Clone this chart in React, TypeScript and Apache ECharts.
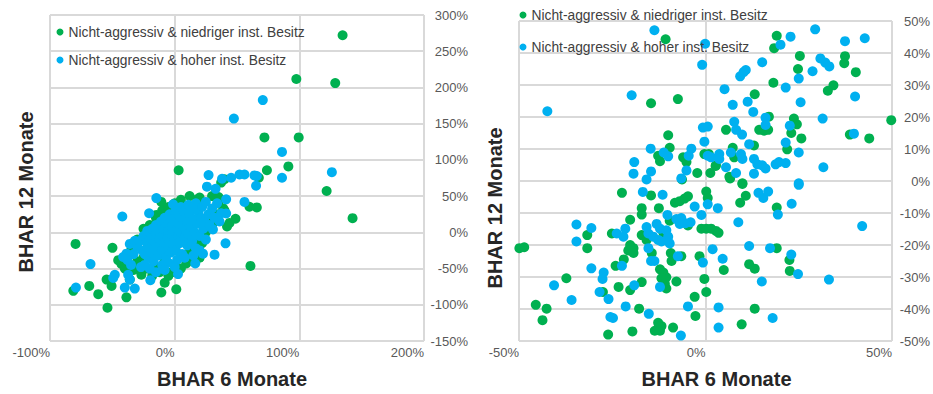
import React, { useEffect, useRef } from "react";
import * as echarts from "echarts";

const SERIES_NAMES = [
  "Nicht-aggressiv & niedriger inst. Besitz",
  "Nicht-aggressiv & hoher inst. Besitz",
];
const X_TITLE = "BHAR 6 Monate";
const Y_TITLE = "BHAR 12 Monate";

const LEFT_X_TICKS = [-100, 0, 100, 200];
const LEFT_Y_TICKS = [-150, -100, -50, 0, 50, 100, 150, 200, 250, 300];
const RIGHT_X_TICKS = [-50, 0, 50];
const RIGHT_Y_TICKS = [-50, -40, -30, -20, -10, 0, 10, 20, 30, 40, 50];

const COLORS = ["#00B050", "#00B0F0"];

// Left chart: BHAR 6 months (x, %) vs BHAR 12 months (y, %)
const leftGreen: number[][] = [
  [134.7, 272], [97.6, 211.6], [128.8, 206], [72, 131], [99.5, 131], [91.2, 91],
  [74, 85.7], [3.2, 85.7], [121.9, 57], [142.7, 19.6], [60.8, -46.4], [65.9, 34.4],
  [60, 35.3], [48.8, 18.8], [44, 13], [67.5, 75.4], [37.3, 68.7], [40, 73.3],
  [-79.5, -16], [-49.9, -21.4], [-45.3, -38.4], [-42.7, -43.7], [-54.6, -65.2],
  [-50.6, -74], [-68.5, -74], [-81.3, -80.8], [-61.3, -85.3], [-53.9, -104],
  [-38.7, -89.7], [-36, -65.2], [-26.7, -58.5], [-10.7, -83], [-8, -69.6], [1.3, -78.6],
  [-4, -56], [9.3, -43], [-10.7, 42], [-8, 26.3], [-14.7, 24], [18.1, 45.5], [39, 33],
  [35.2, 48.7], [-28, -45], [-25, -35], [-22, -50], [-18, -60], [-15, -48], [-12, -55],
  [-8, -40], [-5, -60], [0, -45], [5, -50], [10, -30], [15, -25], [18, -10], [22, -15],
  [25, 0], [28, 20], [30, 10], [35, 25], [-25, 5], [-20, -5], [-30, -10], [-35, -25],
  [-15, 20], [-10, 30], [-5, 35], [0, 40], [5, 45], [12, 50], [20, 48], [30, 50],
  [-20, 10], [35, 40], [40, 30], [-40, -50], [-33, -52], [42, 8], [15, -40], [20, -35],
  [-2, -55], [-30, -40],
];

const leftBlue: number[][] = [
  [70.7, 182.6], [47.5, 157], [86.1, 111], [126.1, 83], [86.1, 75.4], [65.9, 77.7],
  [65.3, 64.3], [52, 79.8], [56, 79.8], [45.3, 75.4], [38, 74], [27.2, 79], [25.9, 63],
  [32.8, 60], [56, 42], [41.3, 45.5], [37.3, 26.3], [41.3, 26], [30.7, 4], [40.8, -15.2],
  [32, -30.8], [16.5, -43], [22.7, -29.5], [2.7, -57.6], [-19.5, -66], [-42, 21.9],
  [-14.7, 47.3], [-1.3, 38.8], [-20.5, 26.3], [-67.5, -43.8], [-79.2, -76.3], [-48, -58.5],
  [-49.3, -63], [-37.3, -58.5], [-36, -65.2], [-40, -76.3], [-32, -77.7], [-41.3, -34],
  [-36, -16], [-32, -11.6], [-38.7, -29.5], [64, 78.6],
  [-30, -20], [-28, -12], [-26, -25], [-25, -5], [-24, -30], [-22, -15], [-22, 2],
  [-21, -35], [-20, -22], [-19, -8], [-18, 5], [-18, -28], [-17, -40], [-16, -14],
  [-15, 10], [-15, -3], [-14, -20], [-13, -32], [-12, 0], [-12, -10], [-11, 15],
  [-10, -25], [-10, -5], [-9, 5], [-8, -15], [-8, 20], [-7, -35], [-6, -8], [-6, 10],
  [-5, -20], [-5, 2], [-4, 25], [-4, -12], [-3, -28], [-3, 15], [-2, -3], [-2, 8],
  [-1, -18], [0, 0], [0, 20], [0, -10], [1, 30], [1, -25], [2, 5], [3, -5], [3, 12],
  [4, 22], [4, -15], [5, 35], [5, 0], [6, -30], [6, 10], [7, 18], [8, -8], [8, 28],
  [9, 3], [10, -18], [10, 15], [11, 38], [11, -2], [12, 25], [13, 8], [14, -12],
  [14, 32], [15, 18], [16, 0], [17, 40], [17, -22], [18, 12], [19, 28], [20, -5],
  [21, 20], [22, 35], [23, 5], [24, 15], [25, 42], [25, -10], [27, 25], [28, 10],
  [30, 33], [32, 20], [34, 40], [36, 15], [-35, -45], [-33, -30], [-38, -38], [-27, -48],
  [-24, -45], [-10, -45], [-5, -42], [2, -38], [8, -35], [15, -32], [20, -25],
  [-20, -50], [-15, -55], [-8, -52], [0, -48],
];

// Right chart (zoomed): BHAR 6 months (x, %) vs BHAR 12 months (y, %)
const rightGreen: number[][] = [
  [-10.7, 44.3], [19.1, 45.4], [18.4, 41.5], [25.3, 39.1], [24.8, 35], [37.4, 39],
  [37.2, 36.8], [40.3, 34], [34.3, 29.9], [32.8, 28.2], [18.2, 30.7], [13.2, 27.1],
  [-7.4, 25.6], [-14.6, 24.3], [49.8, 19], [38.7, 14.5], [43.9, 13.3], [17, 20.1],
  [23.7, 19.5], [24.5, 17.7], [23, 15], [25.7, 13.3], [21.9, 9.9], [14.4, 16],
  [15.7, 15.7], [16.8, 16], [13, 11.1], [5.5, 16], [7.3, 10.4], [7.7, 7.4], [2.8, 4.9],
  [1.3, 2.5], [6.4, 1.3], [9.9, -0.7], [6.6, 0.8], [9.9, -0.9], [10.8, -4.6], [9.3, -6.8],
  [19.1, -8.3], [0.2, -3.3], [0.6, -5.3], [-10, 14.3], [-9.6, 10.4], [-12.7, 7.9],
  [-12.2, 6.2], [-6, 7.4], [-5.1, 5.9], [-2.2, 2.5], [-0.3, 8.4], [0.9, 8.4], [2.7, 4.7],
  [-6.3, 0.5], [-22.4, -3.7], [-14.6, -4.5], [-8.2, -6.8], [-6.9, -6.3], [-5.6, -5.5],
  [-4.7, -4.8], [-17.1, -8.5], [-17.1, -10.5], [-12.5, -8.5], [-9.6, -12.4], [-4.7, -13.9],
  [-1.1, -14.9], [-20.2, -12.1], [-31.7, -16.9], [-31.7, -21], [-25.1, -16.4],
  [-20.2, -20], [-19.3, -21], [-20.7, -21.7], [-19.3, -22.5], [-17.1, -16.9],
  [-15.8, -18.4], [-14.4, -22.5], [-9.3, -22.5], [-9.1, -25], [-6.5, -23.5],
  [-37.3, -30.4], [-23.3, -33.1], [-20.2, -34.1], [-17.1, -31.6], [-12.2, -27.6],
  [-11.3, -28.6], [-10.5, -30.1], [-11.8, -30.4], [-10.9, -32.1], [-10.5, -33.6],
  [-7.8, -31.4], [-45.5, -38.7], [-42.6, -39.9], [-43.7, -43.5], [-17.8, -39.9],
  [-2.9, -36.2], [-2.7, -42.2], [-26.1, -48], [-19.6, -47], [-12.7, -44.3],
  [-11.8, -45.3], [-13.6, -46.8], [-12.2, -46.8], [-8.7, -45.8], [0.2, -34.7],
  [-0.3, -30.6], [-1.6, -23.5], [0.2, -14.9], [1.5, -14.9], [2.8, -15.6], [3.5, -16.2],
  [19.1, -21], [22.5, -24.7], [22.6, -28.1], [4.9, -27.8], [11.7, -26], [13.2, -27.4],
  [13.2, -39.9], [9.7, -44.8], [-49.9, -21], [-48.6, -20.7], [-27.5, -34.7],
  [-24.1, -26.5], [-21.9, -24.5], [-11.3, -16.2],
];

const rightBlue: number[][] = [
  [-13.7, 47.1], [-0.1, 42.9], [-0.9, 36.3], [29.4, 47.4], [22.8, 45.1], [20.1, 42.6],
  [37.4, 43.7], [42.7, 44.6], [30.8, 38.3], [32.1, 37], [33.2, 35.8], [28.7, 34.3],
  [15.2, 37.1], [9.3, 32.7], [10.2, 34], [10.8, 34.7], [25, 32], [21.5, 29.2], [5.1, 28.7],
  [25.5, 24.6], [40.1, 26.4], [7.3, 23.8], [11.3, 24.8], [12.8, 21.6], [7.7, 18.5],
  [8.2, 16], [16.1, 19.8], [16.1, 17.5], [0.6, 17], [-0.7, 16.7], [22.6, 17.3],
  [31.4, 19.5], [39.8, 14.8], [9.8, 14.5], [11.7, 11.5], [21.5, 12], [25, 8.9],
  [31.6, 4.3], [0.6, 7.9], [1.5, 7.4], [3.7, 8.4], [3.7, 6.9], [6.8, 8.9], [9.5, 8.4],
  [9.9, 6.9], [13, 6.9], [13.9, 5.2], [15.2, 4.9], [16.1, 3.9], [18.8, 5.2], [19.7, 5.9],
  [21.5, 5.6], [5.5, 4.3], [8.2, 2.5], [13, 2.3], [25, -0.7], [-0.3, 12.3], [-19.8, 26.8],
  [-42.4, 21.8], [-14.7, 10.1], [-11.2, 8.9], [-10, 7.7], [-3.8, 10.1], [-4.5, 7.9],
  [-19.1, 5.9], [-19.3, 2.3], [-14.6, 3], [-15.8, 0.5], [-5.1, 3.3], [-6.5, 0.8],
  [-16.8, -3.4], [-11.5, -4.3], [-2.9, -8], [-10.2, -10.6], [-7.8, -11.9], [-6.5, -11.6],
  [-6.9, -13.4], [-5.4, -13.2], [-4, -12.9], [-34.6, -13.6], [-30.6, -14.7],
  [-34.6, -18.9], [-23.8, -16.4], [-22, -17.4], [-21.5, -14.9], [-15.8, -14.4],
  [-15.3, -16.4], [-14, -17.4], [-12.7, -18.4], [-13.1, -13.4], [-12.2, -14.9],
  [-10.5, -15.4], [-10, -17.4], [-9.6, -19.5], [-11.8, -18.9], [-15.3, -21], [-14.6, -25],
  [-13.7, -25], [-7.4, -23.5], [-30.6, -27.3], [-27.3, -28.6], [-27.6, -30.6],
  [-40.6, -32.6], [-19.1, -32.6], [-12.2, -33.1], [-28.4, -34.7], [-26, -36.9],
  [-35.9, -37.2], [-21.4, -39.2], [-15.2, -41.5], [-4.7, -39.2], [-25.5, -42.5],
  [-24.8, -42.8], [-6.6, -48.3], [-0.7, -25.5], [25, -1.2], [14.2, -3.7], [15.5, -5.3],
  [16.8, -3.3], [19.4, -10.5], [23.1, -7.1], [3.3, -8.5], [0.6, -7.3], [8.8, -12.9],
  [42, -14.1], [1.9, -21.3], [11.7, -20.3], [17.3, -21], [23, -23], [24.8, -29.1],
  [4.6, -24.3], [15.1, -31.4], [33.1, -30.8], [3.5, -39.5], [18, -42.8], [3.5, -45.8],
  [-1.1, -10.6], [-22.4, -26.5],
];

const FONT = "'Liberation Sans', Arial, sans-serif";
const GRID_LINE = { color: "#D9D9D9", width: 2 };

function valueX(ticks: number[], gridIndex: number, nameGap: number, namePad: number[]) {
  return {
    type: "value",
    gridIndex,
    min: ticks[0],
    max: ticks[ticks.length - 1],
    interval: ticks[1] - ticks[0],
    axisLine: { show: false },
    axisTick: { show: false },
    splitLine: { show: true, lineStyle: GRID_LINE },
    axisLabel: {
      formatter: "{value}%",
      color: "#595959",
      fontSize: 13,
      fontFamily: FONT,
      align: "right",
      margin: 5,
    },
    name: X_TITLE,
    nameLocation: "middle",
    nameGap,
    nameTextStyle: {
      fontSize: 20,
      fontWeight: "bold",
      color: "#262626",
      fontFamily: FONT,
      padding: namePad,
    },
  };
}

function valueY(ticks: number[], gridIndex: number, margin: number) {
  return {
    type: "value",
    gridIndex,
    position: "right",
    min: ticks[0],
    max: ticks[ticks.length - 1],
    interval: ticks[1] - ticks[0],
    axisLine: { show: false },
    axisTick: { show: false },
    splitLine: { show: true, lineStyle: GRID_LINE },
    axisLabel: {
      formatter: "{value}%",
      color: "#595959",
      fontSize: 13,
      fontFamily: FONT,
      align: "right",
      margin,
    },
  };
}

function titleY(ticks: number[], gridIndex: number, nameGap: number, namePad: number[]) {
  return {
    type: "value",
    gridIndex,
    position: "left",
    min: ticks[0],
    max: ticks[ticks.length - 1],
    interval: ticks[1] - ticks[0],
    axisLine: { show: false },
    axisTick: { show: false },
    splitLine: { show: false },
    axisLabel: { show: false },
    name: Y_TITLE,
    nameLocation: "middle",
    nameGap,
    nameTextStyle: {
      fontSize: 20,
      fontWeight: "bold",
      color: "#262626",
      fontFamily: FONT,
      padding: namePad,
    },
  };
}

function scatter(name: string, color: string, data: number[][], xi: number, yi: number) {
  return {
    type: "scatter",
    name,
    xAxisIndex: xi,
    yAxisIndex: yi,
    data,
    symbol: "circle",
    symbolSize: 10,
    itemStyle: { color, opacity: 1 },
    emphasis: { disabled: true },
  };
}

function legendAt(left: number, top: number, itemGap: number) {
  return {
    left,
    top,
    padding: 0,
    orient: "vertical",
    icon: "circle",
    itemWidth: 7,
    itemHeight: 7,
    itemGap,
    selectedMode: false,
    data: SERIES_NAMES,
    textStyle: { color: "#404040", fontSize: 13.8, fontFamily: FONT, lineHeight: 14 },
  };
}

export default function App() {
  const ref = useRef<HTMLDivElement>(null);

  useEffect(() => {
    if (!ref.current) return;
    const chart = echarts.init(ref.current, null, { renderer: "svg" });
    chart.setOption({
      animation: false,
      backgroundColor: "#ffffff",
      grid: [
        { left: 50, top: 15, width: 374, height: 335 },
        { left: 519, top: 21, width: 376, height: 329 },
      ],
      xAxis: [
        valueX(LEFT_X_TICKS, 0, 28, [0, 10, 0, 0]),
        valueX(RIGHT_X_TICKS, 1, 28, [0, 0, 0, 22]),
      ],
      yAxis: [
        valueY(LEFT_Y_TICKS, 0, 44),
        titleY(LEFT_Y_TICKS, 0, 14, [0, 28, 0, 0]),
        valueY(RIGHT_Y_TICKS, 1, 38),
        titleY(RIGHT_Y_TICKS, 1, 14, [0, 54, 0, 0]),
      ],
      legend: [legendAt(56.5, 25, 14), legendAt(519.5, 8, 18)],
      series: [
        scatter(SERIES_NAMES[0], COLORS[0], leftGreen, 0, 0),
        scatter(SERIES_NAMES[1], COLORS[1], leftBlue, 0, 0),
        scatter(SERIES_NAMES[0], COLORS[0], rightGreen, 1, 2),
        scatter(SERIES_NAMES[1], COLORS[1], rightBlue, 1, 2),
      ],
    });
    return () => chart.dispose();
  }, []);

  return (
    <div
      ref={ref}
      style={{ position: "fixed", left: 0, top: 0, width: 933, height: 394, background: "#fff" }}
    />
  );
}
